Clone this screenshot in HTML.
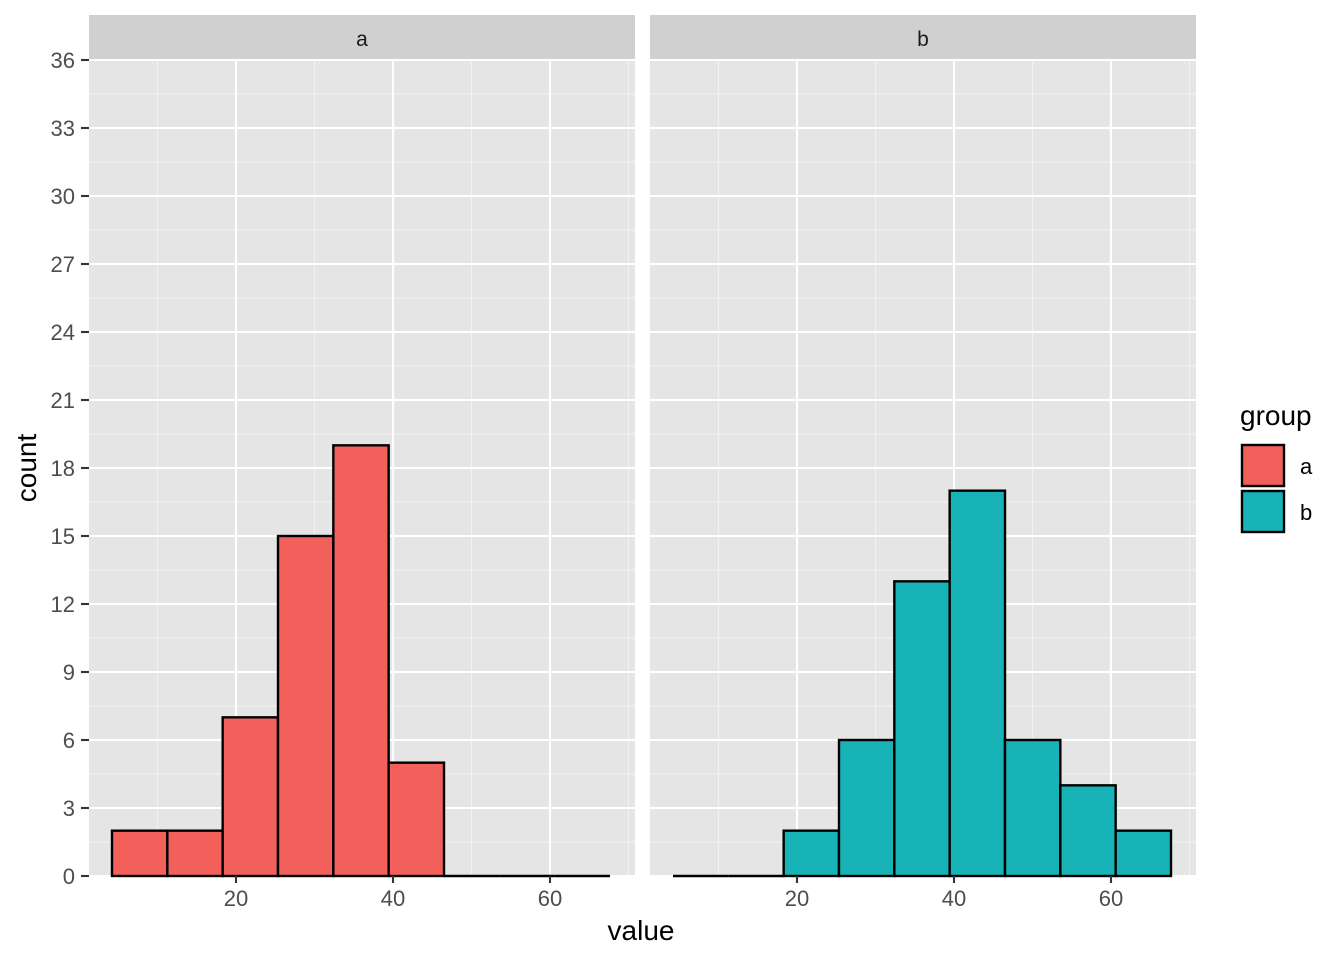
<!DOCTYPE html>
<html><head><meta charset="utf-8"><style>body{margin:0;background:#fff}svg{display:block}</style></head>
<body>
<svg width="1344" height="960" xmlns="http://www.w3.org/2000/svg" font-family="Liberation Sans, sans-serif">
<rect width="1344" height="960" fill="#fff"/>
<g id="panels"></g>
<script>
(function(){
const ns="http://www.w3.org/2000/svg",g=document.getElementById("panels");
function el(t,a,txt){const e=document.createElementNS(ns,t);for(const k in a)e.setAttribute(k,a[k]);if(txt!==undefined)e.textContent=txt;g.appendChild(e);return e;}
const y0=876,su=68/3;
const Y=v=>y0-v*su;
const panels=[{x:89,lab:"a",vals:[2,2,7,15,19,5,0,0,0],off:0,bx:112},
{x:650,lab:"b",vals:[0,0,2,6,13,17,6,4,2],off:561,bx:673}];
panels.forEach(p=>{
 const w=546;
 el("rect",{x:p.x,y:15,width:w,height:44,fill:"#D0D0D0"});
 el("text",{x:p.x+w/2,y:46,"text-anchor":"middle","font-size":"21","fill":"#1a1a1a"},p.lab);
 el("rect",{x:p.x,y:60,width:w,height:y0-60,fill:"#E5E5E5"});
 for(let v=1.5;v<36;v+=3)el("line",{x1:p.x,x2:p.x+w,y1:Y(v),y2:Y(v),stroke:"#F2F2F2","stroke-width":1.1});
 [157.5,314.5,471.5,628.5].forEach(x=>el("line",{x1:x+p.off,x2:x+p.off,y1:60,y2:y0,stroke:"#F2F2F2","stroke-width":1.1}));
 for(let v=0;v<=36;v+=3)el("line",{x1:p.x,x2:p.x+w,y1:Y(v),y2:Y(v),stroke:"#fff","stroke-width":2.1});
 [236,393,550].forEach(x=>el("line",{x1:x+p.off,x2:x+p.off,y1:60,y2:y0,stroke:"#fff","stroke-width":2.1}));
 const bw=(610-112)/9;
 p.vals.forEach((v,i)=>{
  const x=p.bx+i*bw;
  if(v>0)el("rect",{x:x,y:Y(v),width:bw,height:v*su,fill:p.lab=="a"?"#F2605B":"#17B3B7",stroke:"#000","stroke-width":2.4});
  else el("line",{x1:x,x2:x+bw,y1:y0,y2:y0,stroke:"#000","stroke-width":2.4});
 });
 [[236,"20"],[393,"40"],[550,"60"]].forEach(([x,t])=>{
  el("line",{x1:x+p.off,x2:x+p.off,y1:y0,y2:y0+7,stroke:"#333","stroke-width":2.1});
  el("text",{x:x+p.off,y:906,"text-anchor":"middle","font-size":"22",fill:"#4D4D4D"},t);
 });
});
for(let v=0;v<=36;v+=3){
 el("line",{x1:81,x2:89,y1:Y(v),y2:Y(v),stroke:"#333","stroke-width":2.1});
 el("text",{x:75,y:Y(v)+8,"text-anchor":"end","font-size":"22",fill:"#4D4D4D"},String(v));
}
el("text",{x:641,y:940,"text-anchor":"middle","font-size":"28",fill:"#000"},"value");
el("text",{x:36,y:468,"text-anchor":"middle","font-size":"28",fill:"#000",transform:"rotate(-90 36 468)"},"count");
el("text",{x:1240,y:425,"font-size":"28",fill:"#000"},"group");
el("rect",{x:1242,y:445,width:42,height:41,fill:"#F2605B",stroke:"#000","stroke-width":2.4});
el("rect",{x:1242,y:491,width:42,height:41,fill:"#17B3B7",stroke:"#000","stroke-width":2.4});
el("text",{x:1300,y:474,"font-size":"22",fill:"#000"},"a");
el("text",{x:1300,y:520,"font-size":"22",fill:"#000"},"b");
})();
</script>
</svg>
</body></html>
